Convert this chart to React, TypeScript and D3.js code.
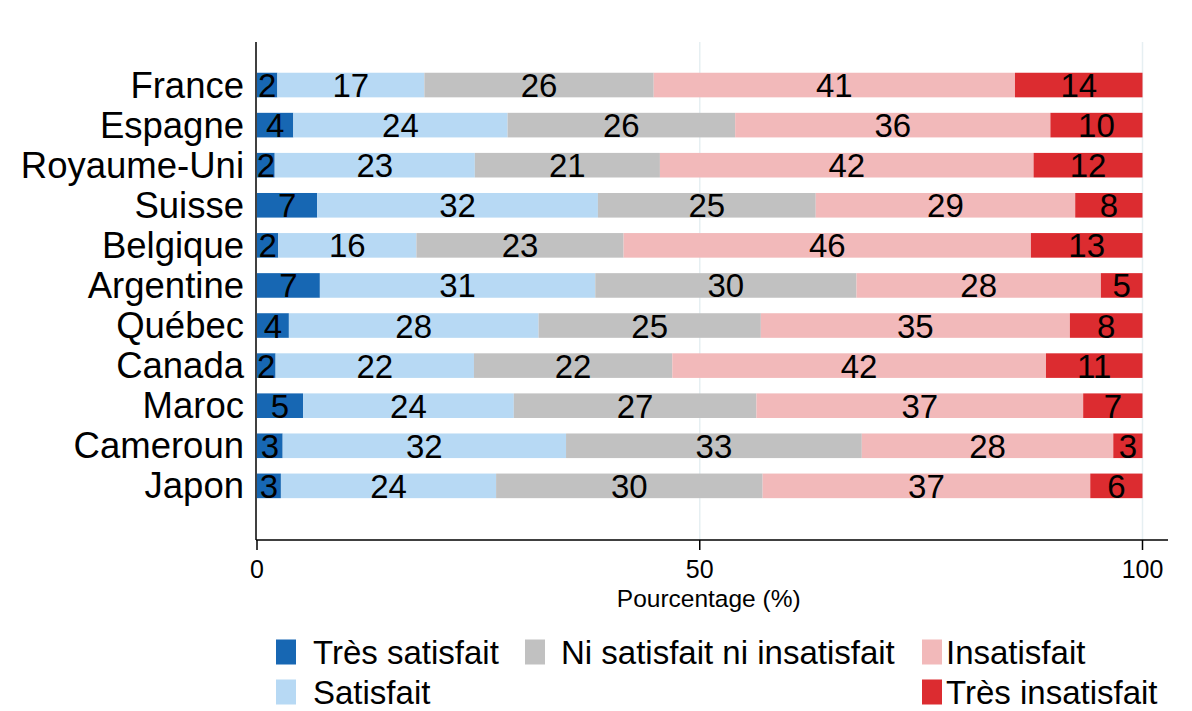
import React from "react";
import * as d3 from "d3";

const countries = ["France", "Espagne", "Royaume-Uni", "Suisse", "Belgique", "Argentine", "Québec", "Canada", "Maroc", "Cameroun", "Japon"];
const categories = ["Très satisfait", "Satisfait", "Ni satisfait ni insatisfait", "Insatisfait", "Très insatisfait"];

const tresSatisfait = [2.3, 4.1, 2.0, 6.8, 2.4, 7.1, 3.6, 2.1, 5.2, 2.9, 2.7];
const satisfait = [16.6, 24.2, 22.6, 31.7, 15.6, 31.1, 28.2, 22.4, 23.8, 32.0, 24.3];
const niNi = [25.9, 25.7, 20.9, 24.6, 23.4, 29.5, 25.1, 22.4, 27.4, 33.4, 30.1];
const insatisfait = [40.8, 35.6, 42.2, 29.3, 46.0, 27.6, 34.9, 42.2, 36.9, 28.4, 37.0];
const tresInsatisfait = [14.4, 10.4, 12.3, 7.6, 12.6, 4.7, 8.2, 10.9, 6.7, 3.3, 5.9];

const xTicks = [0, 50, 100];
const colors = ["#1767b3", "#b7d9f4", "#c1c1c1", "#f2b9ba", "#dc2c30"];

const series = [tresSatisfait, satisfait, niNi, insatisfait, tresInsatisfait];

const FONT = "'Liberation Sans', Arial, Helvetica, sans-serif";

export default function App() {
  const W = 1192, H = 711;
  const x = d3.scaleLinear().domain([0, 100]).range([257, 1142.5]);
  const y = d3.scalePoint<string>().domain(countries).range([65, 505.9]).padding(0.5);
  const barH = 24.6;
  const plotTop = 42, plotBottom = 540;
  const axisLeft = 256, axisRight = 1168;

  const rows = countries.map((c, i) => {
    const vals = series.map((s) => s[i]);
    const stack: { k: number; x0: number; x1: number; v: number }[] = [];
    let acc = 0;
    vals.forEach((v, k) => {
      stack.push({ k, x0: acc, x1: acc + v, v });
      acc += v;
    });
    return { c, stack };
  });

  const legendItems = [
    { k: 0, kx: 276, tx: 313, row: 0 },
    { k: 2, kx: 525, tx: 561, row: 0 },
    { k: 3, kx: 922, tx: 946, row: 0 },
    { k: 1, kx: 276, tx: 313, row: 1 },
    { k: 4, kx: 922, tx: 946, row: 1 },
  ];
  const legendRowY = [652, 692];

  return (
    <svg width={W} height={H} style={{ position: "absolute", left: 0, top: 0, background: "#fff" }} fontFamily={FONT}>
      <rect x={0} y={0} width={W} height={H} fill="#fff" />
      {xTicks.filter((t) => t > 0).map((t) => (
        <line key={t} x1={x(t)} x2={x(t)} y1={plotTop} y2={plotBottom} stroke="#e6eff2" strokeWidth={1.5} />
      ))}
      {rows.map((r) => (
        <g key={r.c}>
          {r.stack.map((s) => (
            <rect
              key={s.k}
              x={x(s.x0)}
              y={(y(r.c) as number) - barH / 2}
              width={x(s.x1) - x(s.x0)}
              height={barH}
              fill={colors[s.k]}
            />
          ))}
          {r.stack.map((s) => (
            <text
              key={"t" + s.k}
              x={(x(s.x0) + x(s.x1)) / 2}
              y={(y(r.c) as number) + 12}
              textAnchor="middle"
              fontSize={33}
              fill="#000"
            >
              {Math.round(s.v)}
            </text>
          ))}
          <text x={244} y={(y(r.c) as number) + 12.5} textAnchor="end" fontSize={36.5} fill="#000">
            {r.c}
          </text>
        </g>
      ))}
      <line x1={axisLeft} x2={axisLeft} y1={plotTop} y2={plotBottom} stroke="#000" strokeWidth={1.5} />
      <line x1={axisLeft} x2={axisRight} y1={plotBottom} y2={plotBottom} stroke="#000" strokeWidth={1.5} />
      {xTicks.map((t) => (
        <g key={"tick" + t}>
          <line x1={x(t)} x2={x(t)} y1={plotBottom} y2={plotBottom + 10} stroke="#000" strokeWidth={1.5} />
          <text x={x(t)} y={578} textAnchor="middle" fontSize={25} fill="#000">
            {t}
          </text>
        </g>
      ))}
      <text x={(x(0) + x(100)) / 2 + 9} y={607} textAnchor="middle" fontSize={24.5} fill="#000">
        Pourcentage (%)
      </text>
      {legendItems.map((l) => (
        <g key={"leg" + l.k}>
          <rect x={l.kx} y={legendRowY[l.row] - 12.5} width={20} height={25} fill={colors[l.k]} />
          <text x={l.tx} y={legendRowY[l.row] + 12} fontSize={33} fill="#000">
            {categories[l.k]}
          </text>
        </g>
      ))}
    </svg>
  );
}
